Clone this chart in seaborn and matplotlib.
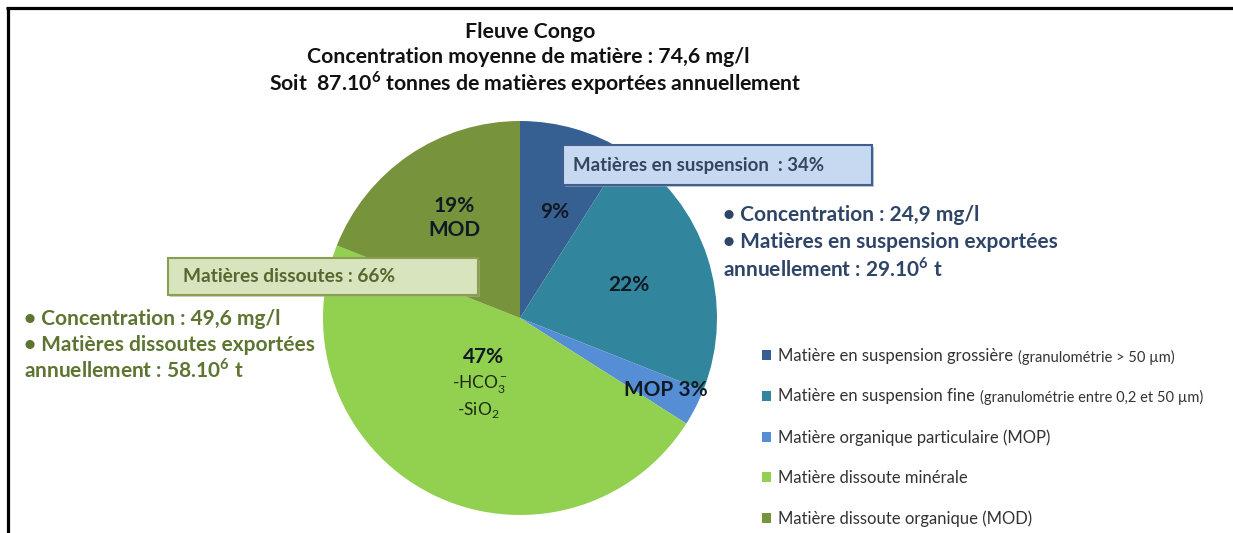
import matplotlib
matplotlib.use("Agg")
import matplotlib.pyplot as plt
import seaborn as sns
from matplotlib.patches import Rectangle, Patch

sns.set_theme(style="white")
plt.rcParams["font.family"] = ["Lato", "DejaVu Sans"]
plt.rcParams["mathtext.fontset"] = "custom"
plt.rcParams["mathtext.rm"] = "Lato"
plt.rcParams["mathtext.bf"] = "Lato:bold"

# data
categories = ["Matière en suspension grossière", "Matière en suspension fine",
              "Matière organique particulaire (MOP)", "Matière dissoute minérale",
              "Matière dissoute organique (MOD)"]
notes = ["(granulométrie > 50 µm)", "(granulométrie entre 0,2 et 50 µm)", "", "", ""]
shares = [9, 22, 3, 47, 19]
slice_labels = ["9%", "22%", "MOP 3%", "47%", "19%\nMOD"]
colors = ["#376092", "#31859C", "#558ED5", "#92D050", "#77933C"]

title_lines = ["Fleuve Congo",
               "Concentration moyenne de matière : 74,6 mg/l",
               r"Soit  87.10$^{\mathbf{6}}$ tonnes de matières exportées annuellement"]
susp_box = "Matières en suspension  : 34%"
diss_box = "Matières dissoutes : 66%"
susp_info = ["• Concentration : 24,9 mg/l",
             "• Matières en suspension exportées",
             r"annuellement : 29.10$^{\mathbf{6}}$ t"]
diss_info = ["• Concentration : 49,6 mg/l",
             "• Matières dissoutes exportées",
             r"annuellement : 58.10$^{\mathbf{6}}$ t"]

W, H = 1233, 533
fig = plt.figure(figsize=(W / 100, H / 100), dpi=100)

# pie, placed in pixels
cx, cy, r = 520, 318, 197
ax = fig.add_axes([(cx - r) / W, (H - cy - r) / H, 2 * r / W, 2 * r / H])
ax.pie(shares, colors=colors, startangle=90, counterclock=False,
       radius=1, wedgeprops=dict(linewidth=0))
ax.set_xlim(-1, 1)
ax.set_ylim(-1, 1)

lab_pos = [(0.178, 0.538), (0.553, 0.168), (0.738, -0.365), (-0.183, -0.198), (-0.335, 0.508)]
for lab, (x, y) in zip(slice_labels, lab_pos):
    ax.text(x, y, lab, ha="center", va="center", fontsize=15, fontweight="bold",
            color="#111a24", linespacing=1.25)
ax.text(-0.203, -0.335, r"-HCO$_3^-$", ha="center", va="center", fontsize=12.5, color="#1e2a14")
ax.text(-0.213, -0.467, r"-SiO$_2$", ha="center", va="center", fontsize=12.5, color="#1e2a14")

# overlay in pixel coordinates
ov = fig.add_axes([0, 0, 1, 1])
ov.set_xlim(0, W)
ov.set_ylim(H, 0)
ov.axis("off")
ov.patch.set_alpha(0)
ov.set_zorder(2)

ov.plot([7.5, 7.5], [H, 7.5], color="black", lw=2.3, solid_capstyle="butt")
ov.plot([6.4, W], [7.5, 7.5], color="black", lw=2.3, solid_capstyle="butt")

for line, (x, y) in zip(title_lines, [(530, 32), (528, 57), (535, 83)]):
    ov.text(x, y, line, ha="center", va="center", fontsize=15.3, fontweight="bold", color="#111111")

# boxes
ov.add_patch(Rectangle((565, 147), 309, 40, fc="#9aa3ae", ec="none", alpha=0.6))
ov.add_patch(Rectangle((563, 145), 309, 40, fc="#C6D9F1", ec="#3F5F8E", lw=1.5))
ov.text(573, 166, susp_box, ha="left", va="center", fontsize=13.4, fontweight="bold", color="#34465f")
ov.add_patch(Rectangle((170, 260), 310, 37, fc="#a9b296", ec="none", alpha=0.6))
ov.add_patch(Rectangle((168, 258), 310, 37, fc="#D7E4BD", ec="#8AA050", lw=1.5))
ov.text(183, 277, diss_box, ha="left", va="center", fontsize=13.8, fontweight="bold", color="#56682f")

for line, y in zip(susp_info, [215, 242, 269]):
    ov.text(723, y, line, ha="left", va="center", fontsize=15, fontweight="bold", color="#2f4568")
for line, y in zip(diss_info, [319, 345, 370]):
    ov.text(24, y, line, ha="left", va="center", fontsize=15, fontweight="bold", color="#5e7431")

# legend
handles = [Patch(facecolor=c, edgecolor="none") for c in colors]
leg = ov.legend(handles, categories, loc="upper left", bbox_to_anchor=(762, 348),
                bbox_transform=ov.transData, frameon=False, fontsize=12,
                handlelength=0.55, handleheight=0.55, handletextpad=0.4,
                labelspacing=1.47, borderpad=0, borderaxespad=0, labelcolor="#333333")

fig.canvas.draw()
inv = ov.transData.inverted()
for t, note in zip(leg.get_texts(), notes):
    if not note:
        continue
    bb = t.get_window_extent()
    (x1, y0), (_, y1) = inv.transform([(bb.x1, bb.y0), (bb.x1, bb.y1)])
    ov.text(x1 + 5, (y0 + y1) / 2 + 1, note, ha="left", va="center", fontsize=10.5, color="#333333")

fig.savefig("out.png", dpi=100)
